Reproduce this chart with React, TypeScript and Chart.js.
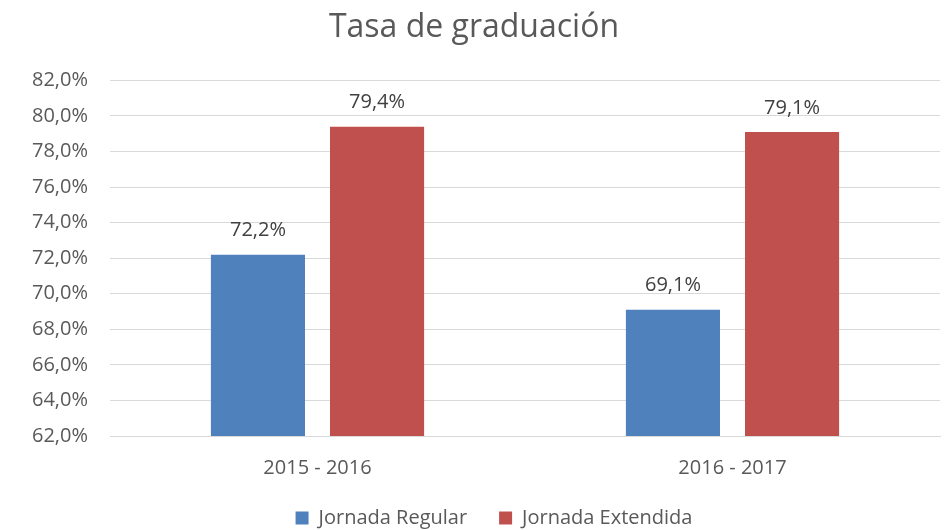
import React, { useEffect, useRef } from "react";
import { Chart, registerables } from "chart.js";

Chart.register(...registerables);

const categories = ["2015 - 2016", "2016 - 2017"];
const seriesNames = ["Jornada Regular", "Jornada Extendida"];
const regular = [72.2, 69.1];
const extendida = [79.4, 79.1];
const yMin = 62;
const yMax = 82;
const yStep = 2;
const titleText = "Tasa de graduación";

const FONT = "'Open Sans', sans-serif";
const TEXT = "#595959";
const FS = 20;

const fmt = (v: number) => v.toFixed(1).replace(".", ",") + "%";

const dataLabels = {
  id: "dataLabels",
  afterDatasetsDraw(chart: any) {
    const ctx = chart.ctx;
    ctx.save();
    ctx.font = `${FS}px ${FONT}`;
    ctx.fillStyle = "#404040";
    ctx.textAlign = "center";
    ctx.textBaseline = "middle";
    chart.data.datasets.forEach((ds: any, i: number) => {
      const meta = chart.getDatasetMeta(i);
      meta.data.forEach((bar: any, j: number) => {
        ctx.fillText(fmt(ds.data[j]), bar.x, bar.y - 24);
      });
    });
    ctx.restore();
  },
};

const shiftLegend = {
  id: "shiftLegend",
  afterLayout(chart: any) {
    if (chart.legend) {
      chart.legend.left += 20;
      chart.legend.right += 20;
    }
  },
};

export default function App() {
  const ref = useRef<HTMLCanvasElement | null>(null);
  useEffect(() => {
    if (!ref.current) return;
    const chart = new Chart(ref.current, {
      type: "bar",
      data: {
        labels: categories,
        datasets: [
          {
            label: seriesNames[0],
            data: regular,
            backgroundColor: "#4F81BD",
            categoryPercentage: 0.574,
            barPercentage: 0.79,
          },
          {
            label: seriesNames[1],
            data: extendida,
            backgroundColor: "#C0504D",
            categoryPercentage: 0.574,
            barPercentage: 0.79,
          },
        ],
      },
      options: {
        animation: false,
        responsive: false,
        layout: { padding: { left: 8, right: 9, top: 0, bottom: -8 } },
        plugins: {
          title: {
            display: true,
            text: titleText,
            color: TEXT,
            font: { family: FONT, size: 32, weight: "normal" },
            padding: { top: 9, bottom: 33 },
          },
          legend: {
            position: "bottom",
            labels: {
              color: TEXT,
              font: { family: FONT, size: FS },
              boxWidth: 13,
              boxHeight: 13,
              padding: 32,
            },
          },
          tooltip: { enabled: false },
        },
        scales: {
          x: {
            grid: { display: false, drawTicks: false },
            border: { display: true, color: "#d9d9d9" },
            ticks: { color: TEXT, font: { family: FONT, size: FS }, padding: 20 },
            afterFit: (s: any) => {
              s.height = 40;
            },
          },
          y: {
            min: yMin,
            max: yMax,
            ticks: {
              stepSize: yStep,
              color: TEXT,
              font: { family: FONT, size: FS },
              padding: 22,
              callback: (v: any) => fmt(Number(v)),
            },
            grid: { color: "#d9d9d9", drawTicks: false },
            border: { display: false },
            afterFit: (s: any) => {
              s.width = 102;
            },
          },
        },
      },
      plugins: [dataLabels, shiftLegend],
    });
    return () => chart.destroy();
  }, []);
  return (
    <div style={{ position: "absolute", left: 0, top: 0, width: 949, height: 530, background: "#fff" }}>
      <canvas ref={ref} width={949} height={530} />
    </div>
  );
}
